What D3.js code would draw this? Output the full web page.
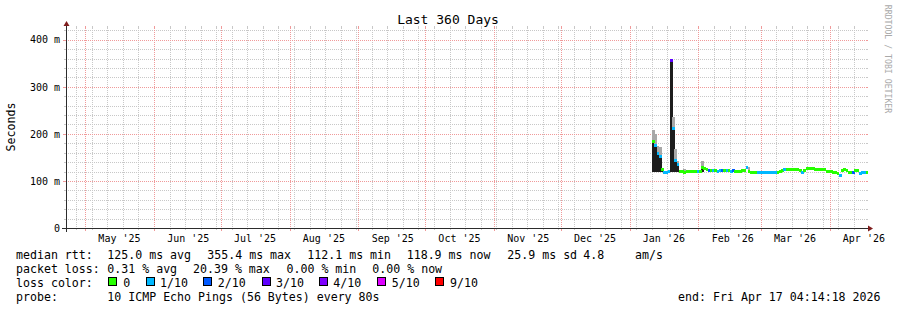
<!DOCTYPE html>
<meta charset="utf-8">
<head>
	<title>Last 360 Days</title>
</head>

<style>
body {
	margin: 0;
	background: #fff;
}
svg {
	display: block;
	font-family: "DejaVu Sans Mono", monospace;
}
.grid-minor {
	stroke: #c8c8c8;
	stroke-dasharray: 1,1;
}
.grid-major {
	stroke: #f09a9a;
	stroke-dasharray: 1,1;
}
.tick-minor { stroke: #c8c8c8; }
.tick-major { stroke: #f09a9a; }
.axis path, .axis line { display: none; }
.axis text { fill: #000; font-size: 10px; font-family: "DejaVu Sans Mono", monospace; }
.legend { font-size: 11.6px; fill: #000; white-space: pre; }
</style>

<body>
<svg id="chart" width="897" height="310"></svg>

<script src="https://cdnjs.cloudflare.com/ajax/libs/d3/7.8.5/d3.min.js"></script>
<script>

// time span
var endTime = new Date(Date.UTC(2026, 3, 17, 4, 14, 18));
var startTime = new Date(endTime.getTime() - 360 * 864e5);
var firstDay = new Date(Date.UTC(2026, 0, 11)); // first day with data

// daily median rtt (ms), one value per day from firstDay
var medianRtt = [
	183, 175, 158, 153, 124, 119, 118, 120, 355.4, 212,
	144, 134, 121, 120, 119, 120, 121, 120, 120, 121,
	120, 121, 129, 126, 124, 123, 123, 122, 122, 121,
	122, 123, 122, 122, 123, 121, 122, 121, 121, 121,
	122, 123, 128, 121, 119, 119, 119, 118, 117, 117,
	117, 117, 117, 117, 117, 117, 119, 121, 123, 124,
	124, 125, 125, 125, 125, 125, 123, 118, 123, 126,
	126, 126, 126, 125, 125, 125, 124, 124, 121, 120,
	120, 119, 117, 115, 112.1, 122, 124, 123, 119, 118,
	117, 123, 123, 116, 117, 119, 118.9
];

// lost pings out of 10, per day
var lossCount = [
	0, 1, 1, 1, 0, 1, 1, 1, 3, 1,
	1, 1, 0, 0, 0, 0, 0, 0, 0, 0,
	1, 0, 0, 0, 0, 2, 0, 1, 0, 1,
	1, 2, 0, 1, 0, 1, 2, 0, 0, 0,
	0, 0, 1, 0, 0, 0, 0, 1, 1, 1,
	1, 1, 1, 1, 1, 1, 0, 0, 0, 1,
	0, 0, 0, 0, 0, 0, 0, 1, 0, 0,
	0, 0, 0, 0, 0, 0, 0, 0, 0, 0,
	0, 0, 0, 0, 1, 0, 0, 0, 0, 0,
	2, 0, 0, 1, 1, 1, 0
];

// days with visible smoke (index into the daily arrays), low and high ping (ms)
var smokeDay = [0, 1, 2, 3, 4, 8, 9, 10, 11, 14, 22, 31, 36, 37, 43, 81, 82, 93, 94];
var smokeLo  = [119, 119, 119, 119, 118, 118, 119, 119, 119, 118, 120, 120, 119, 118, 118, 115, 114, 114, 115];
var smokeHi  = [208, 200, 175, 172, 127, 356, 236, 167, 142, 125, 142, 125, 125, 123, 130, 122, 121, 120, 121];

// loss colour legend
var lossLevels = [0, 1, 2, 3, 4, 5, 9];
var lossLabels = ['0', '1/10', '2/10', '3/10', '4/10', '5/10', '9/10'];
var lossColors = ['#26ff00', '#00b8ff', '#0059ff', '#5e00ff', '#7e00ff', '#dd00ff', '#ff0000'];
var lossBoxX = [108, 146, 203, 262, 319, 377, 435];
var lossTextX = [123.3, 160, 217.7, 276, 333.3, 391.7, 450];

// axis ticks
var yMajor = [0, 100, 200, 300, 400];
var yMinorStep = 20;

// legend text
var rttText = ['median rtt:', '125.0 ms avg', '355.4 ms max', '112.1 ms min', '118.9 ms now', '25.9 ms sd', '4.8', 'am/s'];
var rttX = [16, 107.3, 207.3, 307.3, 406.7, 507.3, 583.3, 635];
var lossText = ['packet loss:', '0.31 % avg', '20.39 % max', '0.00 % min', '0.00 % now'];
var lossX = [16, 107.3, 193, 286.5, 372.3];

var svg = d3.select('#chart');

var x0 = 66, x1 = 866, y0 = 228, y1 = 28;

var x = d3.scaleUtc()
	.domain([startTime, endTime])
	.range([x0, x1]);

var y = d3.scaleLinear()
	.domain([0, 425])
	.range([y0, y1]);

function px(v) { return Math.floor(v) + 0.5; }

// ---- grid ----
var grid = svg.append('g');

// horizontal minor
var yMinor = d3.range(yMinorStep, 425, yMinorStep).filter(function(d){ return d % 100 !== 0; });
yMinor.forEach(function(v){
	var yy = px(Math.round(y(v)));
	grid.append('line').attr('class', 'grid-minor')
		.attr('x1', x0).attr('x2', x1).attr('y1', yy).attr('y2', yy);
	grid.append('line').attr('class', 'tick-minor')
		.attr('x1', x0 - 2).attr('x2', x0).attr('y1', yy).attr('y2', yy);
	grid.append('line').attr('class', 'tick-minor')
		.attr('x1', x1).attr('x2', x1 + 2).attr('y1', yy).attr('y2', yy);
});

// vertical minor (weeks)
var weeks = d3.utcWeek.range(startTime, endTime);
weeks.forEach(function(d){
	var xx = px(x(d));
	grid.append('line').attr('class', 'grid-minor')
		.attr('x1', xx).attr('x2', xx).attr('y1', y1).attr('y2', y0);
	grid.append('line').attr('class', 'tick-minor')
		.attr('x1', xx).attr('x2', xx).attr('y1', y1 - 2).attr('y2', y1);
	grid.append('line').attr('class', 'tick-minor')
		.attr('x1', xx).attr('x2', xx).attr('y1', y0).attr('y2', y0 + 2);
});

// horizontal major
yMajor.forEach(function(v){
	if (v === 0) return;
	var yy = px(Math.round(y(v)));
	grid.append('line').attr('class', 'grid-major')
		.attr('x1', x0).attr('x2', x1).attr('y1', yy).attr('y2', yy);
	grid.append('line').attr('class', 'tick-major')
		.attr('x1', x0 - 3).attr('x2', x0).attr('y1', yy).attr('y2', yy);
	grid.append('line').attr('class', 'tick-major')
		.attr('x1', x1).attr('x2', x1 + 2).attr('y1', yy).attr('y2', yy);
});

// vertical major (months)
var months = d3.utcMonth.range(startTime, endTime);
months.forEach(function(d){
	var xx = px(x(d));
	grid.append('line').attr('class', 'grid-major')
		.attr('x1', xx).attr('x2', xx).attr('y1', y1).attr('y2', y0);
	grid.append('line').attr('class', 'tick-major')
		.attr('x1', xx).attr('x2', xx).attr('y1', y1 - 2).attr('y2', y1);
	grid.append('line').attr('class', 'tick-major')
		.attr('x1', xx).attr('x2', xx).attr('y1', y0).attr('y2', y0 + 3);
});

// ---- data ----
var days = medianRtt.map(function(m, i){
	return {
		date: d3.utcDay.offset(firstDay, i),
		median: m,
		loss: lossCount[i]
	};
});

function dayX(i) { return x(days[i].date); }
function dayW(i) { return x(d3.utcDay.offset(days[i].date, 1)) - x(days[i].date) + 0.4; }

var data = svg.append('g');

// smoke: dark below the median, grey above it
data.selectAll('rect.smoke-dark')
	.data(smokeDay)
	.enter()
	.append('rect')
	.attr('class', 'smoke-dark')
	.attr('x', function(d){ return dayX(d); })
	.attr('width', function(d){ return dayW(d); })
	.attr('y', function(d){ return y(days[d].median); })
	.attr('height', function(d, i){ return Math.max(0, y(smokeLo[i]) - y(days[d].median)); })
	.attr('fill', '#1d1d1d')
	.attr('shape-rendering', 'crispEdges');

data.selectAll('rect.smoke-grey')
	.data(smokeDay)
	.enter()
	.append('rect')
	.attr('class', 'smoke-grey')
	.attr('x', function(d){ return dayX(d); })
	.attr('width', function(d){ return dayW(d); })
	.attr('y', function(d, i){ return y(smokeHi[i]); })
	.attr('height', function(d, i){ return Math.max(0, y(days[d].median) - y(smokeHi[i])); })
	.attr('fill', '#a8a8a8')
	.attr('shape-rendering', 'crispEdges');

// median band coloured by loss
data.selectAll('rect.median')
	.data(days)
	.enter()
	.append('rect')
	.attr('class', 'median')
	.attr('x', function(d, i){ return dayX(i); })
	.attr('width', function(d, i){ return dayW(i); })
	.attr('y', function(d){ return y(d.median) - 1.5; })
	.attr('height', 3)
	.attr('fill', function(d){ return lossColors[lossLevels.indexOf(d.loss)]; })
	.attr('shape-rendering', 'crispEdges');

// ---- axes ----
var axisColor = '#2c2c2c';
var arrowColor = '#7f1d1d';

svg.append('line')
	.attr('x1', x0 - 4).attr('x2', x1 + 4)
	.attr('y1', y0 + 0.5).attr('y2', y0 + 0.5)
	.attr('stroke', axisColor);
svg.append('line')
	.attr('x1', x0 + 0.5).attr('x2', x0 + 0.5)
	.attr('y1', y0 + 4).attr('y2', y1 - 4)
	.attr('stroke', axisColor);

svg.append('path')
	.attr('d', 'M' + (x1 + 2) + ',' + (y0 + 3.5) + 'L' + (x1 + 2) + ',' + (y0 - 2.5) + 'L' + (x1 + 7) + ',' + (y0 + 0.5) + 'Z')
	.attr('fill', arrowColor);
svg.append('path')
	.attr('d', 'M' + (x0 - 2.5) + ',' + (y1 - 2) + 'L' + (x0 + 3.5) + ',' + (y1 - 2) + 'L' + (x0 + 0.5) + ',' + (y1 - 7) + 'Z')
	.attr('fill', arrowColor);

// month labels sit half way through each month
var monthLabels = months.map(function(d){ return d3.utcDay.offset(d, 15); })
	.filter(function(d){ return d < endTime; });

svg.append('g')
	.attr('class', 'axis')
	.attr('transform', 'translate(0,' + y0 + ')')
	.call(d3.axisBottom(x)
		.tickValues(monthLabels)
		.tickSize(0)
		.tickPadding(7)
		.tickFormat(d3.utcFormat("%b '%y")));

svg.append('g')
	.attr('class', 'axis')
	.attr('transform', 'translate(' + x0 + ',0)')
	.call(d3.axisLeft(y)
		.tickValues(yMajor)
		.tickSize(0)
		.tickPadding(6)
		.tickFormat(function(d){ return d === 0 ? '0' : d + ' m'; }));

// ---- titles ----
svg.append('text')
	.attr('x', 448)
	.attr('y', 23.5)
	.attr('text-anchor', 'middle')
	.attr('font-size', '13px')
	.text('Last 360 Days');

svg.append('text')
	.attr('transform', 'translate(15,127) rotate(-90)')
	.attr('text-anchor', 'middle')
	.attr('font-size', '11.6px')
	.text('Seconds');

svg.append('text')
	.attr('transform', 'translate(884.5,59) rotate(90)')
	.attr('text-anchor', 'middle')
	.attr('font-size', '8.2px')
	.attr('fill', '#a9a9a9')
	.text('RRDTOOL / TOBI OETIKER');

// ---- legend ----
var legend = svg.append('g').attr('class', 'legend');

legend.selectAll('text.rtt')
	.data(rttText)
	.enter()
	.append('text')
	.attr('x', function(d, i){ return rttX[i]; })
	.attr('y', 258.5)
	.text(function(d){ return d; });

legend.selectAll('text.loss')
	.data(lossText)
	.enter()
	.append('text')
	.attr('x', function(d, i){ return lossX[i]; })
	.attr('y', 272.5)
	.text(function(d){ return d; });

legend.append('text')
	.attr('x', 16).attr('y', 286.5)
	.text('loss color:');

legend.selectAll('rect.box')
	.data(lossColors)
	.enter()
	.append('rect')
	.attr('x', function(d, i){ return lossBoxX[i] + 0.5; })
	.attr('y', 277.5)
	.attr('width', 8)
	.attr('height', 8)
	.attr('fill', function(d){ return d; })
	.attr('stroke', '#000');

legend.selectAll('text.lbl')
	.data(lossLabels)
	.enter()
	.append('text')
	.attr('x', function(d, i){ return lossTextX[i]; })
	.attr('y', 286.5)
	.text(function(d){ return d; });

legend.append('text')
	.attr('x', 16).attr('y', 300.5)
	.text('probe:');
legend.append('text')
	.attr('x', 107.3).attr('y', 300.5)
	.text('10 ICMP Echo Pings (56 Bytes) every 80s');
legend.append('text')
	.attr('x', 880.5).attr('y', 300.5)
	.attr('text-anchor', 'end')
	.text('end: Fri Apr 17 04:14:18 2026');

</script>

</body>
</html>
